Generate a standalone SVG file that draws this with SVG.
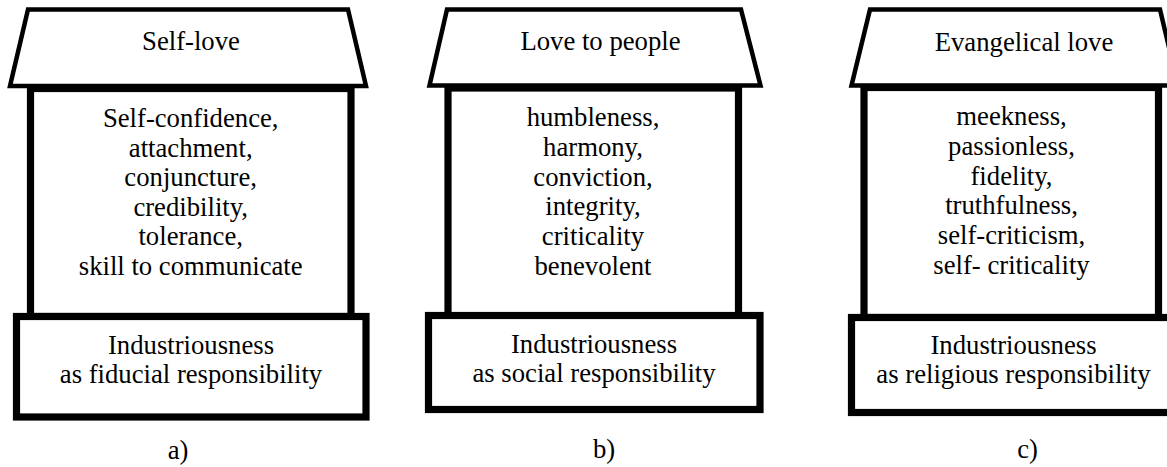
<svg xmlns="http://www.w3.org/2000/svg" width="1167" height="467" viewBox="0 0 1167 467">
<style>
.roof{fill:#fff;stroke:#000;stroke-width:4.5;stroke-linejoin:miter}
.box{fill:#fff;stroke:#000;stroke-width:7.2}
.t{font-size:26.7px;fill:#000;text-anchor:middle}
</style>
<rect width="1167" height="467" fill="#fff"/>
<g id="connectors"/>
<g font-family="'Liberation Serif', 'Times New Roman', Times, 'DejaVu Serif', serif">
<g id="house-a" class="t">
  <g id="roof-a"><polygon class="roof" points="28,9.5 348,9.5 366,86 10,86"/><text x="191" y="49.5">Self-love</text></g>
  <g id="body-a"><rect class="box" x="30.5" y="88.5" width="320.5" height="228"/>
    <text x="190.7" y="127">Self-confidence,</text>
    <text x="190.7" y="156.5">attachment,</text>
    <text x="190.7" y="186">conjuncture,</text>
    <text x="190.7" y="215.5">credibility,</text>
    <text x="190.7" y="245">tolerance,</text>
    <text x="190.7" y="274.5">skill to communicate</text>
  </g>
  <g id="base-a"><rect class="box" x="16.5" y="316.5" width="349.5" height="100.5"/>
    <text x="191" y="354">Industriousness</text>
    <text x="191" y="383">as fiducial responsibility</text>
  </g>
  <g id="label-a"><text x="178" y="459">a)</text></g>
</g>
<g id="house-b" class="t">
  <g id="roof-b"><polygon class="roof" points="447,9.5 741,9.5 760.5,85.5 429.5,85.5"/><text x="600.5" y="50">Love to people</text></g>
  <g id="body-b"><rect class="box" x="448" y="88" width="290.5" height="228"/>
    <text x="593" y="126">humbleness,</text>
    <text x="593" y="155.8">harmony,</text>
    <text x="593" y="185.6">conviction,</text>
    <text x="593" y="215.4">integrity,</text>
    <text x="593" y="245.2">criticality</text>
    <text x="593" y="275">benevolent</text>
  </g>
  <g id="base-b"><rect class="box" x="428.5" y="315.5" width="331.5" height="94"/>
    <text x="594" y="353">Industriousness</text>
    <text x="594" y="382">as social responsibility</text>
  </g>
  <g id="label-b"><text x="604" y="458">b)</text></g>
</g>
<g id="house-c" class="t">
  <g id="roof-c"><polygon class="roof" points="870,9.5 1160,9.5 1178,85.5 851.5,85.5"/><text x="1024" y="50.5">Evangelical love</text></g>
  <g id="body-c"><rect class="box" x="864" y="87.5" width="294.5" height="230"/>
    <text x="1011.5" y="125">meekness,</text>
    <text x="1011.5" y="154.8">passionless,</text>
    <text x="1011.5" y="184.6">fidelity,</text>
    <text x="1011.5" y="214.4">truthfulness,</text>
    <text x="1011.5" y="244.2">self-criticism,</text>
    <text x="1011.5" y="274">self- criticality</text>
  </g>
  <g id="base-c"><rect class="box" x="851.5" y="317.5" width="330" height="95"/>
    <text x="1013.5" y="354">Industriousness</text>
    <text x="1013.5" y="383">as religious responsibility</text>
  </g>
  <g id="label-c"><text x="1027.5" y="458">c)</text></g>
</g>
</g>
</svg>
